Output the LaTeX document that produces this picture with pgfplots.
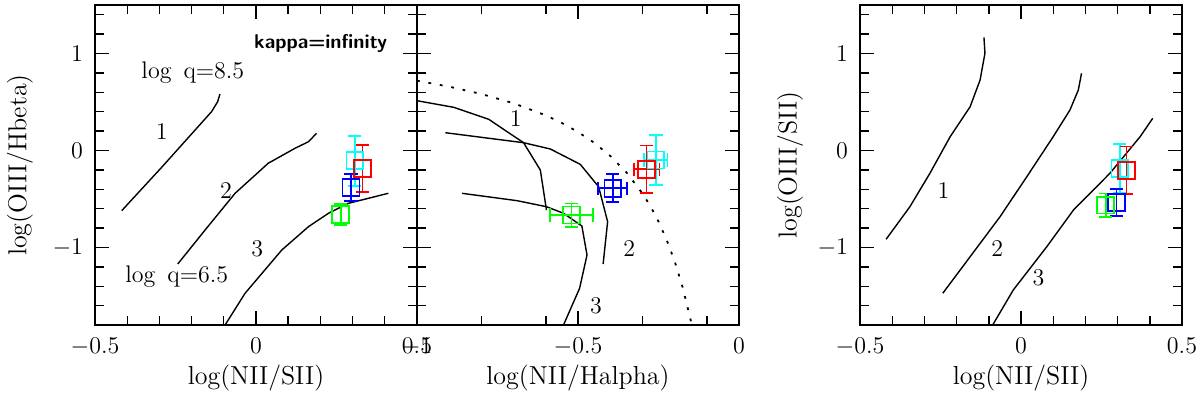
\documentclass[border=0pt]{standalone}
\usepackage{pgfplots}
\pgfplotsset{compat=1.18}
\usepackage{pgfplotstable}
\definecolor{cy}{rgb}{0,1,1}
\definecolor{gr}{rgb}{0,1,0}
\definecolor{rd}{rgb}{1,0,0}
\definecolor{bl}{rgb}{0,0,1}

% Panel 1: log(NII/SII) vs log(OIII/Hbeta)
\pgfplotstableread{
x y ey
0.295 -0.380 0.14
}\Ablue
\pgfplotstableread{
x y ey
0.263 -0.660 0.11
}\Agreen
\pgfplotstableread{
x y ey
0.331 -0.184 0.242
}\Ared
\pgfplotstableread{
x y ey
0.307 -0.106 0.258
}\Acyan
% Panel 2: log(NII/Halpha) vs log(OIII/Hbeta)
\pgfplotstableread{
x y ex ey
-0.392 -0.390 0.045 0.145
}\Bblue
\pgfplotstableread{
x y ex ey
-0.520 -0.666 0.067 0.12
}\Bgreen
\pgfplotstableread{
x y ex ey
-0.287 -0.194 0.04 0.245
}\Bred
\pgfplotstableread{
x y ex ey
-0.258 -0.098 0.036 0.26
}\Bcyan
% Panel 3: log(NII/SII) vs log(OIII/SII)
\pgfplotstableread{
x y ey
0.297 -0.535 0.138
}\Cblue
\pgfplotstableread{
x y ey
0.263 -0.563 0.12
}\Cgreen
\pgfplotstableread{
x y ey
0.328 -0.205 0.245
}\Cred
\pgfplotstableread{
x y ey
0.307 -0.184 0.25
}\Ccyan

\pgfplotsset{
  panel/.style={
    scale only axis, width=161pt, height=160pt,
    ymin=-1.8, ymax=1.5,
    ytick={-1,0,1},
    minor ytick={-1.8,-1.6,-1.4,-1.2,-0.8,-0.6,-0.4,-0.2,0.2,0.4,0.6,0.8,1.2,1.4},
    tick align=inside, xtick pos=both, ytick pos=both,
    major tick length=7pt, minor tick length=4.5pt,
    tick style={line width=0.7pt, black},
    axis line style={line width=1pt},
    ticklabel style={font=\large},
    xticklabel style={yshift=-3pt},
    yticklabel style={xshift=-2.5pt},
    label style={font=\fontsize{13}{15}\selectfont},
    xlabel style={at={(axis description cs:0.5,-0.166)}, anchor=center},
    ylabel style={anchor=center},
    clip=true,
  },
  pts/.style={only marks, mark=square, mark size=4.2pt, line width=0.85pt,
    mark options={line width=0.85pt},
    /pgfplots/error bars/y dir=both, /pgfplots/error bars/y explicit,
    /pgfplots/error bars/error mark options={rotate=90, mark size=3.3pt, line width=0.85pt},
    /pgfplots/error bars/error bar style={line width=0.85pt}},
  ptsxy/.style={pts,
    /pgfplots/error bars/x dir=both, /pgfplots/error bars/x explicit},
  curve/.style={black, line width=0.7pt, no marks},
}

\begin{document}
\begin{tikzpicture}
\path[use as bounding box] (0,0) rectangle (600pt,196pt);

% ---------------- Panel 1 ----------------
\begin{axis}[panel, at={(47.5pt,33.5pt)}, anchor=south west,
  xmin=-0.5, xmax=0.5, xtick={-0.5,0,0.5},
  minor xtick={-0.4,-0.3,-0.2,-0.1,0.1,0.2,0.3,0.4},
  xticklabels={$-0.5$,$0$,$0.5$},
  xlabel={log(NII/SII)}, ylabel={log(OIII/Hbeta)},
  ylabel style={at={(axis description cs:-0.233,0.5)}}]
\addplot[curve] coordinates {(-0.417,-0.621) (-0.293,-0.174) (-0.189,0.211) (-0.138,0.400) (-0.119,0.503) (-0.112,0.582)};
\addplot[curve] coordinates {(-0.243,-1.171) (-0.158,-0.820) (-0.065,-0.442) (0.038,-0.132) (0.121,0.022) (0.163,0.090) (0.188,0.177)};
\addplot[curve] coordinates {(-0.096,-1.80) (-0.034,-1.473) (0.080,-1.027) (0.163,-0.786) (0.225,-0.648) (0.287,-0.545) (0.411,-0.442)};
\node[font=\large] at (axis cs:-0.293,0.193) {1};
\node[font=\large] at (axis cs:-0.093,-0.415) {2};
\node[font=\large] at (axis cs:0.004,-1.009) {3};
\node[font=\large] at (axis cs:-0.196,0.799) {log\enspace q=8.5};
\node[font=\large] at (axis cs:-0.246,-1.302) {log\enspace q=6.5};
\node[font=\sffamily\bfseries] at (axis cs:0.201,1.105) {kappa=infinity};
\addplot[pts, cy] table[x=x, y=y, y error=ey] {\Acyan};
\addplot[pts, rd] table[x=x, y=y, y error=ey] {\Ared};
\addplot[pts, bl] table[x=x, y=y, y error=ey] {\Ablue};
\addplot[pts, gr] table[x=x, y=y, y error=ey] {\Agreen};
\end{axis}

% ---------------- Panel 2 ----------------
\begin{axis}[panel, at={(208.5pt,33.5pt)}, anchor=south west,
  xmin=-1, xmax=0, xtick={-1,-0.5,0},
  minor xtick={-0.8,-0.6,-0.3,-0.1},
  xticklabels={$-1$,$-0.5$,$0$},
  yticklabels={},
  xlabel={log(NII/Halpha)}]
\addplot[black, line width=0.9pt, dash pattern=on 1.4pt off 4.4pt, no marks] coordinates {
(-1.0,0.719) (-0.9,0.658) (-0.8,0.582) (-0.7,0.487) (-0.6,0.362) (-0.55,0.283) (-0.5,0.191) (-0.45,0.080) (-0.4,-0.056) (-0.35,-0.225) (-0.3,-0.443) (-0.275,-0.574) (-0.25,-0.733) (-0.225,-0.919) (-0.2,-1.140) (-0.175,-1.411) (-0.15,-1.750) (-0.147,-1.80)};
\addplot[curve] coordinates {(-1.0,0.513) (-0.886,0.445) (-0.777,0.321) (-0.720,0.193) (-0.669,0.080) (-0.617,-0.202) (-0.609,-0.374) (-0.598,-0.614)};
\addplot[curve] coordinates {(-0.912,0.183) (-0.669,0.080) (-0.586,0.015) (-0.493,-0.143) (-0.436,-0.374) (-0.408,-0.735) (-0.422,-1.171)};
\addplot[curve] coordinates {(-0.860,-0.442) (-0.689,-0.518) (-0.598,-0.580) (-0.545,-0.648) (-0.488,-0.779) (-0.472,-1.078) (-0.495,-1.421) (-0.545,-1.80)};
\node[font=\large] at (axis cs:-0.693,0.332) {1};
\node[font=\large] at (axis cs:-0.341,-1.009) {2};
\node[font=\large] at (axis cs:-0.444,-1.604) {3};
\addplot[ptsxy, cy] table[x=x, y=y, x error=ex, y error=ey] {\Bcyan};
\addplot[ptsxy, rd] table[x=x, y=y, x error=ex, y error=ey] {\Bred};
\addplot[ptsxy, bl] table[x=x, y=y, x error=ex, y error=ey] {\Bblue};
\addplot[ptsxy, gr] table[x=x, y=y, x error=ex, y error=ey] {\Bgreen};
\end{axis}

% ---------------- Panel 3 ----------------
\begin{axis}[panel, at={(430pt,33.5pt)}, anchor=south west,
  xmin=-0.5, xmax=0.5, xtick={-0.5,0,0.5},
  minor xtick={-0.4,-0.3,-0.2,-0.1,0.1,0.2,0.3,0.4},
  xticklabels={$-0.5$,$0$,$0.5$},
  xlabel={log(NII/SII)}, ylabel={log(OIII/SII)},
  ylabel style={at={(axis description cs:-0.217,0.5)}}]
\addplot[curve] coordinates {(-0.419,-0.916) (-0.345,-0.580) (-0.283,-0.236) (-0.220,0.142) (-0.158,0.451) (-0.127,0.727) (-0.112,1.002) (-0.115,1.167)};
\addplot[curve] coordinates {(-0.243,-1.473) (-0.158,-1.096) (-0.065,-0.683) (0.018,-0.271) (0.100,0.142) (0.152,0.417) (0.178,0.623) (0.188,0.796)};
\addplot[curve] coordinates {(-0.088,-1.80) (-0.024,-1.439) (0.080,-0.993) (0.163,-0.614) (0.276,-0.236) (0.370,0.142) (0.409,0.331)};
\node[font=\large] at (axis cs:-0.241,-0.415) {1};
\node[font=\large] at (axis cs:-0.074,-1.009) {2};
\node[font=\large] at (axis cs:0.054,-1.308) {3};
\addplot[pts, cy] table[x=x, y=y, y error=ey] {\Ccyan};
\addplot[pts, rd] table[x=x, y=y, y error=ey] {\Cred};
\addplot[pts, bl] table[x=x, y=y, y error=ey] {\Cblue};
\addplot[pts, gr] table[x=x, y=y, y error=ey] {\Cgreen};
\end{axis}
\end{tikzpicture}
\end{document}
